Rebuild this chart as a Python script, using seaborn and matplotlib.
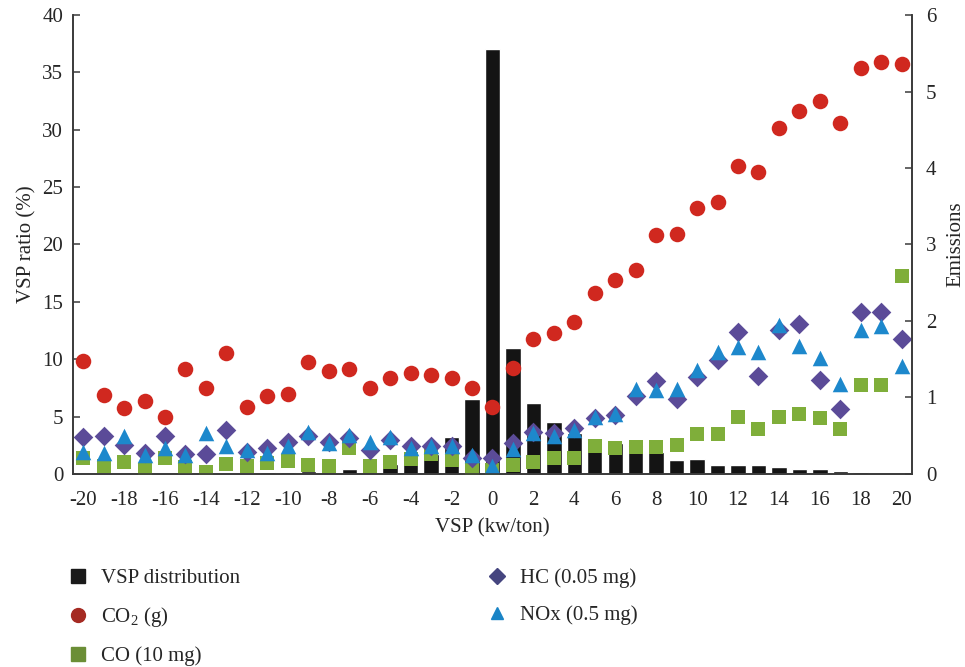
import numpy as np
import pandas as pd
import matplotlib
matplotlib.use("Agg")
import matplotlib.pyplot as plt
import seaborn as sns
from matplotlib.lines import Line2D

# VSP bins (kw/ton)
vsp = list(range(-20, 21))

# VSP distribution (%), left axis
vsp_ratio = [0.1, 0.1, 0.1, 0.1, 0.1, 0.1, 0.1, 0.1, 0.1, 0.2, 0.2, 0.25, 0.3,
             0.45, 0.2, 0.9, 1.2, 1.75, 3.25, 6.5, 37.0, 11.0, 6.2, 4.5, 3.6,
             3.0, 2.7, 2.4, 1.9, 1.2, 1.3, 0.8, 0.75, 0.75, 0.65, 0.45, 0.45,
             0.25, 0.15, 0.1, 0.05]

# emission rates, right axis
co2 = [1.48, 1.03, 0.86, 0.95, 0.74, 1.37, 1.13, 1.58, 0.88, 1.02, 1.05, 1.46, 1.34, 1.37,
       1.13, 1.25, 1.32, 1.29, 1.25, 1.13, 0.87, 1.39, 1.77, 1.84, 1.99, 2.37, 2.53,
       2.67, 3.13, 3.14, 3.48, 3.56, 4.02, 3.95, 4.52, 4.75, 4.88, 4.59, 5.31, 5.39, 5.36]
co = [0.21, 0.11, 0.16, 0.05, 0.21, 0.09, 0.02, 0.13, 0.11, 0.14, 0.17, 0.12, 0.11, 0.34,
      0.10, 0.15, 0.19, 0.26, 0.18, 0.07, 0.05, 0.12, 0.16, 0.21, 0.21, 0.36, 0.34,
      0.35, 0.35, 0.38, 0.52, 0.52, 0.74, 0.59, 0.74, 0.79, 0.73, 0.59, 1.16, 1.16, 2.59]
hc = [0.48, 0.50, 0.38, 0.28, 0.50, 0.26, 0.26, 0.58, 0.29, 0.34, 0.42, 0.50, 0.42, 0.47,
      0.31, 0.45, 0.36, 0.36, 0.36, 0.21, 0.21, 0.40, 0.55, 0.53, 0.60, 0.73, 0.77,
      1.02, 1.21, 0.98, 1.27, 1.49, 1.86, 1.28, 1.88, 1.96, 1.23, 0.85, 2.12, 2.12, 1.76]
nox = [0.29, 0.28, 0.49, 0.25, 0.34, 0.25, 0.53, 0.36, 0.31, 0.28, 0.36, 0.55, 0.40, 0.51,
       0.42, 0.48, 0.34, 0.37, 0.36, 0.25, 0.10, 0.33, 0.53, 0.50, 0.58, 0.75, 0.79,
       1.11, 1.10, 1.11, 1.36, 1.60, 1.66, 1.59, 1.95, 1.67, 1.52, 1.18, 1.88, 1.93, 1.41]

x_ticks = list(range(-20, 21, 2))
left_ticks = list(range(0, 41, 5))
right_ticks = list(range(0, 7))

sns.set_style("white")
plt.rcParams['font.family'] = ['Liberation Serif', 'DejaVu Serif']
plt.rcParams['mathtext.fontset'] = 'custom'
plt.rcParams['mathtext.rm'] = 'Liberation Serif'

df = pd.DataFrame({'VSP': vsp, 'ratio': vsp_ratio, 'CO2': co2,
                   'CO': co, 'HC': hc, 'NOx': nox})

fig = plt.figure(figsize=(9.65, 6.67), dpi=100)
ax = fig.add_axes([0.0756, 0.2894, 0.8694, 0.6881])

sns.barplot(data=df, x='VSP', y='ratio', native_scale=True, color='#141414',
            saturation=1, width=0.75, errorbar=None, ax=ax)

ax2 = ax.twinx()
sns.scatterplot(data=df, x='VSP', y='CO2', marker='o', color='#d0281f',
                s=125, linewidth=0, ax=ax2)
sns.scatterplot(data=df, x='VSP', y='CO', marker='s', color='#7fae3a',
                s=115, linewidth=0, ax=ax2)
sns.scatterplot(data=df, x='VSP', y='HC', marker='D', color='#5b4b98',
                s=100, linewidth=0, ax=ax2)
sns.scatterplot(data=df, x='VSP', y='NOx', marker='^', color='#1d88cc',
                s=125, linewidth=0, ax=ax2)

ax.set_xlim(-20.5, 20.5)
ax.set_ylim(0, 40)
ax2.set_ylim(0, 6)
ax.set_xticks(x_ticks)
ax.set_xticklabels([str(t) for t in x_ticks])
ax.set_yticks(left_ticks)
ax2.set_yticks(right_ticks)

spine_col = '#3a3a3a'
for a in (ax, ax2):
    a.spines['top'].set_visible(False)
    for s in ('left', 'right', 'bottom'):
        a.spines[s].set_color(spine_col)
        a.spines[s].set_linewidth(1.2)
ax.tick_params(axis='x', length=0, labelsize=15, pad=12)
ax.tick_params(axis='y', direction='in', length=5, width=1.1, color=spine_col,
               labelsize=15, pad=7, left=True)
ax2.tick_params(axis='y', direction='in', length=5, width=1.1, color=spine_col,
                labelsize=15, pad=10, right=True)

ax.set_xlabel('VSP (kw/ton)', fontsize=15, labelpad=6)
ax.set_ylabel('VSP ratio (%)', fontsize=15, labelpad=4)
ax2.set_ylabel('Emissions', fontsize=15, labelpad=7)

h1 = [Line2D([], [], ls='none', marker='s', ms=10, color='#1a1a1a'),
      Line2D([], [], ls='none', marker='o', ms=10, color='#a52a22'),
      Line2D([], [], ls='none', marker='s', ms=10, color='#6b8e36')]
l1 = ['VSP distribution', 'CO$_2$ (g)', 'CO (10 mg)']
h2 = [Line2D([], [], ls='none', marker='D', ms=8, color='#45457f'),
      Line2D([], [], ls='none', marker='^', ms=9, color='#1a84c6')]
l2 = ['HC (0.05 mg)', 'NOx (0.5 mg)']

leg_kw = dict(loc='upper left', frameon=False, fontsize=15, labelspacing=0.82,
              handlelength=1.0, handletextpad=0.6, borderaxespad=0,
              bbox_transform=fig.transFigure)
fig.legend(h1, l1, bbox_to_anchor=(0.061, 0.160), **leg_kw)
fig.legend(h2, l2, bbox_to_anchor=(0.496, 0.160), **leg_kw)

fig.savefig('out.png', dpi=100)
